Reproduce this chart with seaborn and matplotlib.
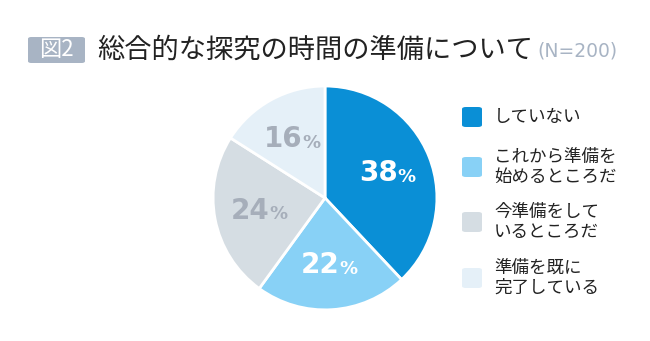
import matplotlib
matplotlib.use("Agg")
import matplotlib.pyplot as plt
import seaborn as sns
import numpy as np
from matplotlib.patches import FancyBboxPatch

sns.set_theme(style="white")
plt.rcParams['font.family'] = ['Noto Sans CJK JP', 'DejaVu Sans']

categories = ["していない", "これから準備を\n始めるところだ", "今準備をして\nいるところだ", "準備を既に\n完了している"]
values = [38, 22, 24, 16]
colors = ["#0A8FD6", "#88D1F6", "#D5DDE3", "#E5F0F8"]
label_colors = ["white", "white", "#A6AEBA", "#A6AEBA"]
title = "総合的な探究の時間の準備について"
subtitle = "(N=200)"
fig_tag = "図2"

fig = plt.figure(figsize=(6.5, 3.41), dpi=100)
ax = fig.add_axes([0.326, 0.088, 0.348, 0.663])
wedges, _ = ax.pie(values, colors=colors, startangle=90, counterclock=False,
                   wedgeprops=dict(edgecolor="white", linewidth=2))
ax.set_xlim(-1.01, 1.01)
ax.set_ylim(-1.01, 1.01)
ax.set_aspect("equal")

for w, v, lc in zip(wedges, values, label_colors):
    ang = np.deg2rad((w.theta1 + w.theta2) / 2)
    r = 0.6
    x, y = r * np.cos(ang), r * np.sin(ang)
    ax.text(x + 0.09, y, f"{v}", ha="right", va="center", fontsize=20,
            fontweight="bold", color=lc, family="DejaVu Sans")
    ax.text(x + 0.09, y - 0.035, "%", ha="left", va="center", fontsize=13,
            fontweight="bold", color=lc, family="DejaVu Sans")

# title
tag = FancyBboxPatch((28/650, 1 - 63/341), 57/650, 26/341, boxstyle="round,pad=0,rounding_size=0.005",
                     transform=fig.transFigure, facecolor="#A8B4C4", edgecolor="none")
fig.patches.append(tag)
fig.text(56.5/650, 1 - 50/341, fig_tag, ha="center", va="center", fontsize=16, color="white")
fig.text(97/650, 1 - 50/341, title, ha="left", va="center", fontsize=19.6, color="#222222")
fig.text(537/650, 1 - 51/341, subtitle, ha="left", va="center", fontsize=13.5, color="#A8B4C4",
         family="DejaVu Sans")

# legend
ycent = [117, 167, 222, 278]
for c, lab, yc in zip(colors, categories, ycent):
    box = FancyBboxPatch((462/650, 1 - (yc + 10)/341), 20/650, 20/341,
                         boxstyle="round,pad=0,rounding_size=0.006",
                         transform=fig.transFigure, facecolor=c, edgecolor="none")
    fig.patches.append(box)
    fig.text(494/650, 1 - yc/341, lab, ha="left", va="center", fontsize=12.6,
             color="#222222", linespacing=1.15)

fig.savefig("out.png", dpi=100)
